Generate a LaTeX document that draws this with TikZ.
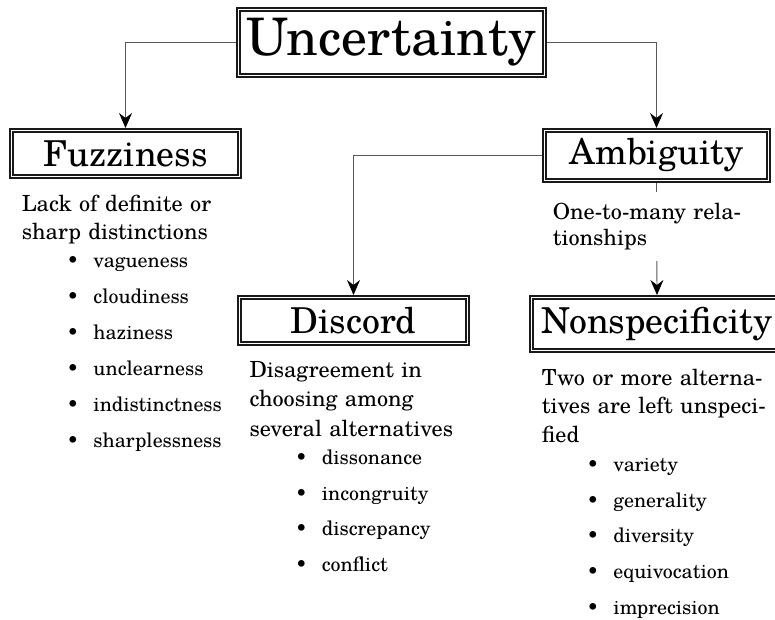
\documentclass[tikz,border=0pt]{standalone}
\usepackage{fontspec}
\setmainfont{TeX Gyre Schola}
\usetikzlibrary{arrows.meta}
\newcommand\bulitem{\leavevmode\llap{\textbullet\hspace{14.5pt}}}
\begin{document}
\begin{tikzpicture}[x=1pt,y=-1pt,
  box/.style={draw=black!90, line width=2pt, fill=white, inner sep=0pt,
    path picture={\draw[black!90, line width=1.3pt]
      ([shift={(3pt,-3pt)}]path picture bounding box.north west) rectangle
      ([shift={(-3pt,3pt)}]path picture bounding box.south east);}},
  conn/.style={draw=black!65, line width=0.9pt},
  arr/.style={conn, -{Stealth[length=15pt,width=13pt,inset=5pt,black]}},
  titlefont/.style={font=\fontsize{51.7}{60}\selectfont},
  labelfont/.style={font=\fontsize{35.7}{40}\selectfont},
  para/.style={anchor=base west, inner sep=0pt, text width=240pt, align=left},
]
\useasboundingbox (0,0) rectangle (775,619);
\node[box, titlefont, minimum width=309pt, minimum height=69pt] (unc) at (391.5,42.5) {Uncertainty};
\node[box, labelfont, minimum width=231pt, minimum height=49pt] (fuz) at (125.5,153.5) {Fuzziness};
\node[box, labelfont, minimum width=227pt, minimum height=53pt] (amb) at (656.5,155.5) {Ambiguity};
\node[box, labelfont, minimum width=231pt, minimum height=49pt] (dis) at (353.5,320.5) {Discord};
\node[box, labelfont, minimum width=254pt, minimum height=56pt] (non) at (657,324) {Nonspecificity};

\draw[arr] (unc.west) -| (fuz.north);
\draw[arr] (unc.east) -| (amb.north);
\draw[arr] (amb.west) -| (dis.north);
\draw[arr] (amb.south) -- (non.north);

\node[para, font=\fontsize{22.2}{27.3}\selectfont] (fuztext) at (21.7,211.7) {Lack of definite or\\sharp distinctions};
\node[para, font=\fontsize{19.9}{36}\selectfont] (fuzlist) at (93.3,267.3) {\bulitem vagueness\\\bulitem cloudiness\\\bulitem haziness\\\bulitem unclearness\\\bulitem indistinctness\\\bulitem sharplessness};

\node[para, fill=white, inner xsep=4pt, inner ysep=11pt, font=\fontsize{22.2}{26.7}\selectfont] (ambtext) at (548.7,219) {One-to-many rela-\\tionships};

\node[para, font=\fontsize{22.2}{29.2}\selectfont] (distext) at (249.3,377.7) {Disagreement in\\choosing among\\several alternatives};
\node[para, font=\fontsize{19.9}{35.8}\selectfont] (dislist) at (321.7,464.3) {\bulitem dissonance\\\bulitem incongruity\\\bulitem discrepancy\\\bulitem conflict};

\node[para, font=\fontsize{22.2}{28.8}\selectfont] (nontext) at (541.7,385) {Two or more alterna-\\tives are left unspeci-\\fied};
\node[para, font=\fontsize{19.9}{35.6}\selectfont] (nonlist) at (613.3,471.7) {\bulitem variety\\\bulitem generality\\\bulitem diversity\\\bulitem equivocation\\\bulitem imprecision};
\end{tikzpicture}
\end{document}
